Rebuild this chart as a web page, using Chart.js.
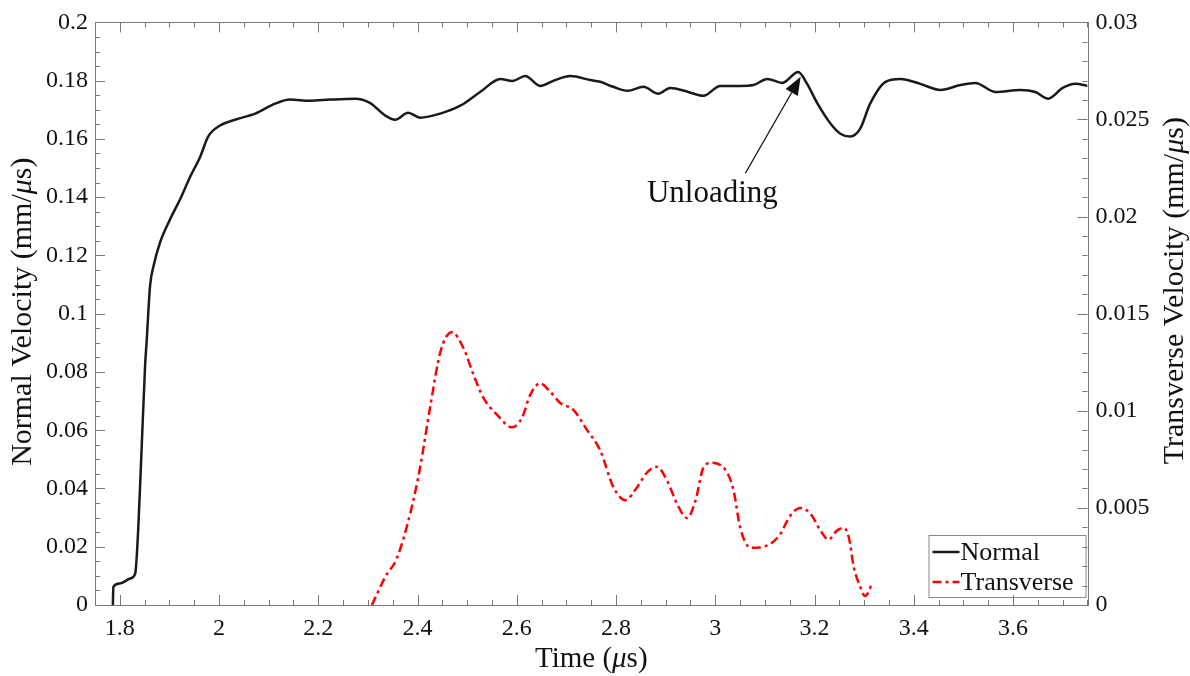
<!DOCTYPE html>
<html>
<head>
<meta charset="utf-8">
<script src="https://cdn.jsdelivr.net/npm/chart.js@4.4.1/dist/chart.umd.min.js"></script>
<style>
  html, body { margin: 0; padding: 0; background: #fff; }
  #wrap { width: 1190px; height: 676px; }
</style>
</head>
<body>
<div id="wrap"><canvas id="velChart" width="1190" height="676"></canvas></div>
<script>
// Normal velocity (left axis, mm/us) vs time (us)
const normalTime = [1.786, 1.787, 1.800, 1.821, 1.831, 1.837, 1.844, 1.851, 1.854, 1.861, 1.868, 1.881, 1.901, 1.921, 1.942, 1.962,
    1.978, 2.002, 2.032, 2.073, 2.113, 2.143, 2.183, 2.224, 2.274, 2.304, 2.335, 2.355, 2.381, 2.405, 2.446, 2.486,
    2.526, 2.567, 2.591, 2.617, 2.647, 2.677, 2.708, 2.748, 2.768, 2.794, 2.823, 2.855, 2.885, 2.909, 2.944, 2.976,
    3.010, 3.050, 3.077, 3.105, 3.135, 3.167, 3.185, 3.206, 3.232, 3.252, 3.272, 3.292, 3.312, 3.343, 3.373, 3.413,
    3.454, 3.494, 3.524, 3.565, 3.615, 3.645, 3.671, 3.700, 3.726, 3.750];
const normalVel = [0, 0.0062, 0.0074, 0.0091, 0.0108, 0.0256, 0.0539, 0.0824, 0.0903, 0.1096, 0.1164, 0.1244, 0.1323, 0.1391, 0.1471, 0.1539,
    0.1608, 0.1646, 0.1666, 0.1687, 0.1721, 0.1735, 0.1731, 0.1735, 0.1738, 0.1724, 0.1680, 0.1666, 0.1690, 0.1673, 0.1687, 0.1714,
    0.1761, 0.1806, 0.1799, 0.1816, 0.1782, 0.1802, 0.1816, 0.1802, 0.1796, 0.1779, 0.1765, 0.1779, 0.1755, 0.1775, 0.1762, 0.1748,
    0.1782, 0.1782, 0.1785, 0.1806, 0.1792, 0.1830, 0.1789, 0.1721, 0.1653, 0.1618, 0.1608, 0.1635, 0.1721, 0.1796, 0.1806, 0.1789,
    0.1768, 0.1785, 0.1792, 0.1761, 0.1768, 0.1761, 0.1738, 0.1775, 0.1789, 0.1782];

// Transverse velocity (right axis, mm/us)
const transTime = [2.308, 2.335, 2.358, 2.385, 2.405, 2.425, 2.446, 2.469, 2.493, 2.513, 2.533, 2.560, 2.590, 2.610, 2.627, 2.647,
    2.667, 2.688, 2.714, 2.741, 2.768, 2.795, 2.819, 2.842, 2.862, 2.882, 2.903, 2.923, 2.943, 2.960, 2.976, 2.993,
    3.024, 3.037, 3.050, 3.071, 3.111, 3.131, 3.151, 3.171, 3.192, 3.212, 3.228, 3.245, 3.259, 3.269, 3.279, 3.292,
    3.302, 3.316];
const transVel = [0, 0.00145, 0.00239, 0.00469, 0.00707, 0.01013, 0.01303, 0.01405, 0.0132, 0.01184, 0.01065, 0.0098, 0.00915, 0.00962, 0.01082, 0.01141,
    0.01099, 0.01039, 0.01005, 0.00903, 0.00796, 0.00605, 0.0054, 0.00605, 0.00681, 0.00712, 0.00639, 0.0052, 0.00448, 0.00537, 0.00707, 0.00733,
    0.00681, 0.00588, 0.004, 0.00295, 0.00315, 0.00366, 0.0046, 0.005, 0.00469, 0.00383, 0.00336, 0.00383, 0.00397, 0.00349, 0.00196, 0.00094,
    0.00046, 0.00111];

// tick labels
const xTicks = [1.8, 2, 2.2, 2.4, 2.6, 2.8, 3, 3.2, 3.4, 3.6];
const yTicks = [0, 0.02, 0.04, 0.06, 0.08, 0.1, 0.12, 0.14, 0.16, 0.18, 0.2];
const y1Ticks = [0, 0.005, 0.01, 0.015, 0.02, 0.025, 0.03];

// annotation (data coords)
const arrowTip = { x: 3.172, y: 0.1813 };
const arrowTail = { x: 3.0605, y: 0.1482 };
const noteText = { x: 2.994, y: 0.1412, text: 'Unloading' };

const SERIF = "'Liberation Serif', 'Times New Roman', serif";
const FRAME = '#777';

function toPoints(xs, ys) {
    return xs.map((x, i) => ({ x: x, y: ys[i] }));
}

// draws text made of plain + italic pieces, centred on (cx, cy)
function drawRich(ctx, parts, cx, cy, size, rot) {
    ctx.save();
    ctx.translate(cx, cy);
    ctx.rotate(rot);
    ctx.textBaseline = 'middle';
    ctx.textAlign = 'left';
    ctx.fillStyle = '#111';
    let total = 0;
    const widths = parts.map(p => {
        ctx.font = (p[1] ? 'italic ' : '') + size + 'px ' + SERIF;
        const w = ctx.measureText(p[0]).width;
        total += w;
        return w;
    });
    let pos = -total / 2;
    parts.forEach((p, i) => {
        ctx.font = (p[1] ? 'italic ' : '') + size + 'px ' + SERIF;
        ctx.fillText(p[0], pos, 0);
        pos += widths[i];
    });
    ctx.restore();
}

function isMult(v, step) {
    const r = v / step;
    return Math.abs(r - Math.round(r)) < 1e-6;
}

const framePlugin = {
    id: 'frame',
    afterDatasetsDraw(chart) {
        const ctx = chart.ctx;
        const a = chart.chartArea;
        const sx = chart.scales.x, sy = chart.scales.y, sy1 = chart.scales.y1;

        // legend box
        const lx = a.right - 159, ly = a.bottom - 70;
        ctx.save();
        ctx.fillStyle = '#fff';
        ctx.fillRect(lx, ly, 157, 62);
        ctx.strokeStyle = '#888';
        ctx.lineWidth = 1;
        ctx.strokeRect(lx + 0.5, ly + 0.5, 157, 62);
        chart.data.datasets.forEach((ds, i) => {
            const yy = ly + 17 + i * 30;
            ctx.strokeStyle = ds.borderColor;
            ctx.lineWidth = 2.5;
            ctx.setLineDash(ds.borderDash || []);
            ctx.beginPath();
            ctx.moveTo(lx + 4, yy);
            ctx.lineTo(lx + 31, yy);
            ctx.stroke();
            ctx.setLineDash([]);
            ctx.fillStyle = '#111';
            ctx.font = '26px ' + SERIF;
            ctx.textBaseline = 'middle';
            ctx.fillText(ds.label, lx + 32, yy + 1);
        });
        ctx.restore();

        // box frame
        ctx.save();
        ctx.strokeStyle = FRAME;
        ctx.lineWidth = 1;
        ctx.strokeRect(Math.round(a.left) + 0.5, Math.round(a.top) + 0.5,
            Math.round(a.right - a.left), Math.round(a.bottom - a.top));

        // inward ticks
        ctx.beginPath();
        for (let t = 1.75; t <= 3.7501; t += 0.05) {
            const px = Math.round(sx.getPixelForValue(t)) + 0.5;
            const len = isMult(t, 0.2) ? 10 : 5;
            ctx.moveTo(px, a.bottom); ctx.lineTo(px, a.bottom - len);
            ctx.moveTo(px, a.top); ctx.lineTo(px, a.top + len);
        }
        for (let v = 0; v <= 0.2001; v += 0.005) {
            const py = Math.round(sy.getPixelForValue(v)) + 0.5;
            const len = isMult(v, 0.02) ? 10 : 5;
            ctx.moveTo(a.left, py); ctx.lineTo(a.left + len, py);
        }
        for (let v = 0; v <= 0.03001; v += 0.001) {
            const py = Math.round(sy1.getPixelForValue(v)) + 0.5;
            const len = isMult(v, 0.005) ? 10 : 5;
            ctx.moveTo(a.right, py); ctx.lineTo(a.right - len, py);
        }
        ctx.stroke();
        ctx.restore();

        // axis titles
        const midY = (a.top + a.bottom) / 2;
        drawRich(ctx, [['Normal Velocity (mm/', false], ['\u03BC', true], ['s)', false]], 23, midY - 2, 30, -Math.PI / 2);
        drawRich(ctx, [['Transverse Velocity (mm/', false], ['\u03BC', true], ['s)', false]], 1175, midY - 23, 30, -Math.PI / 2);
        drawRich(ctx, [['Time (', false], ['\u03BC', true], ['s)', false]], (a.left + a.right) / 2, 659, 29, 0);

        // annotation arrow
        const tx = sx.getPixelForValue(arrowTip.x), ty = sy.getPixelForValue(arrowTip.y);
        const bx = sx.getPixelForValue(arrowTail.x), by = sy.getPixelForValue(arrowTail.y);
        const ang = Math.atan2(ty - by, tx - bx);
        const headL = 18, headW = 7;
        ctx.save();
        ctx.strokeStyle = '#111';
        ctx.fillStyle = '#111';
        ctx.lineWidth = 1.3;
        ctx.beginPath();
        ctx.moveTo(bx, by);
        ctx.lineTo(tx - headL * Math.cos(ang), ty - headL * Math.sin(ang));
        ctx.stroke();
        ctx.beginPath();
        ctx.moveTo(tx, ty);
        ctx.lineTo(tx - headL * Math.cos(ang) + headW * Math.sin(ang), ty - headL * Math.sin(ang) - headW * Math.cos(ang));
        ctx.lineTo(tx - headL * Math.cos(ang) - headW * Math.sin(ang), ty - headL * Math.sin(ang) + headW * Math.cos(ang));
        ctx.closePath();
        ctx.fill();
        ctx.font = '31px ' + SERIF;
        ctx.textAlign = 'center';
        ctx.textBaseline = 'middle';
        ctx.fillText(noteText.text, sx.getPixelForValue(noteText.x), sy.getPixelForValue(noteText.y));
        ctx.restore();
    }
};

const tickFont = { family: SERIF, size: 24 };

const ctx = document.getElementById('velChart').getContext('2d');
const velChart = new Chart(ctx, {
    type: 'line',
    data: {
        datasets: [{
            label: 'Normal',
            data: toPoints(normalTime, normalVel),
            borderColor: '#1a1a1a',
            borderWidth: 2.5,
            pointRadius: 0,
            cubicInterpolationMode: 'monotone',
            yAxisID: 'y'
        }, {
            label: 'Transverse',
            data: toPoints(transTime, transVel),
            borderColor: '#ff0000',
            borderWidth: 2.5,
            borderDash: [9, 4, 3, 4],
            pointRadius: 0,
            cubicInterpolationMode: 'monotone',
            yAxisID: 'y1'
        }]
    },
    options: {
        responsive: false,
        animation: false,
        parsing: false,
        layout: { padding: { top: 18, left: 0, right: 0, bottom: 0 } },
        plugins: {
            legend: { display: false },
            tooltip: { enabled: false }
        },
        scales: {
            x: {
                type: 'linear',
                min: 1.75,
                max: 3.75,
                grid: { display: false, drawTicks: false },
                border: { display: false },
                afterBuildTicks: s => { s.ticks = xTicks.map(v => ({ value: v })); },
                afterFit: s => { s.height = 71; },
                ticks: { font: tickFont, color: '#111', padding: 9, maxRotation: 0, callback: v => String(v) }
            },
            y: {
                type: 'linear',
                position: 'left',
                min: 0,
                max: 0.2,
                grid: { display: false, drawTicks: false },
                border: { display: false },
                afterBuildTicks: s => { s.ticks = yTicks.map(v => ({ value: v })); },
                afterFit: s => { s.width = 95; },
                ticks: { font: tickFont, color: '#111', padding: 7, callback: v => String(v) }
            },
            y1: {
                type: 'linear',
                position: 'right',
                min: 0,
                max: 0.03,
                grid: { display: false, drawTicks: false },
                border: { display: false },
                afterBuildTicks: s => { s.ticks = y1Ticks.map(v => ({ value: v })); },
                afterFit: s => { s.width = 102.5; },
                ticks: { font: tickFont, color: '#111', padding: 8, callback: v => String(v) }
            }
        }
    },
    plugins: [framePlugin]
});
</script>
</body>
</html>
